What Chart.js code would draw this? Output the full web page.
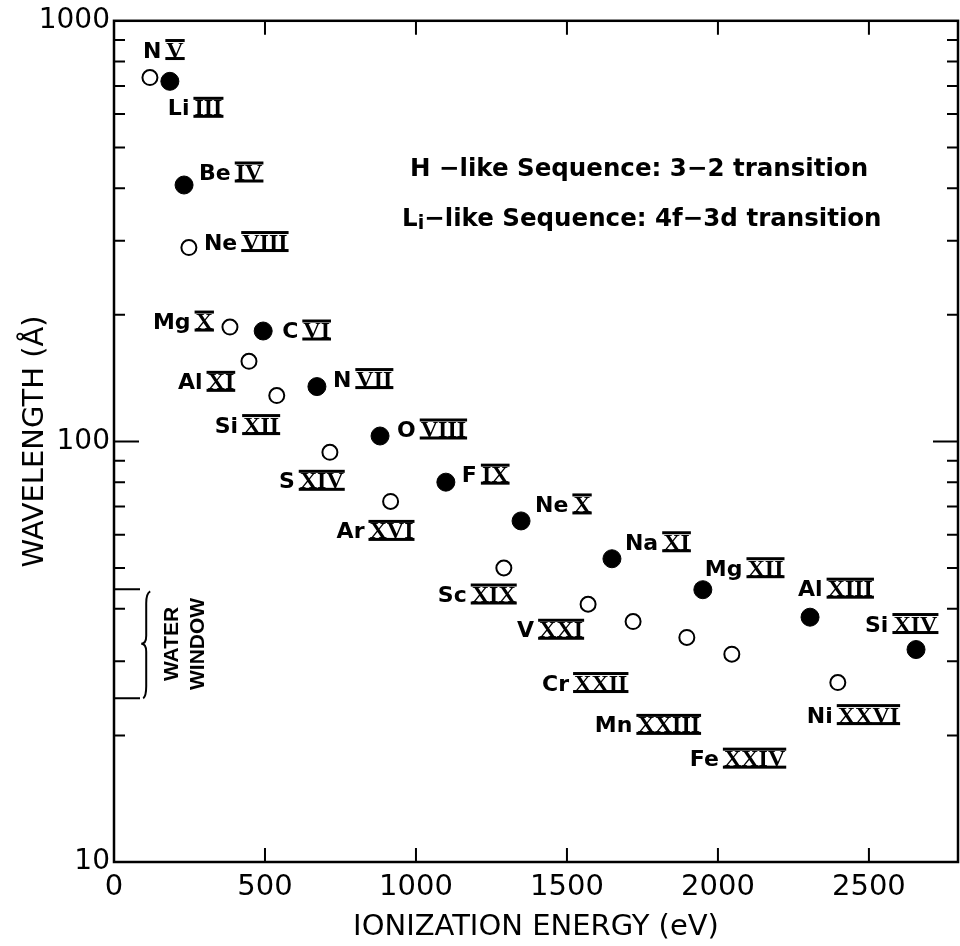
<!DOCTYPE html>
<html>
<head>
<meta charset="utf-8">
<script src="https://cdn.jsdelivr.net/npm/chart.js@4.4.1/dist/chart.umd.min.js"></script>
<style>
html, body { margin: 0; padding: 0; background: #fff; }
</style>
</head>
<body>
<canvas id="myChart" width="960" height="946"></canvas>
<script>
// H-like ions, 3-2 transition (filled circles)
const hIons = ['Li', 'Be', 'C', 'N', 'O', 'F', 'Ne', 'Na', 'Mg', 'Al', 'Si'];
const hStages = ['III', 'IV', 'VI', 'VII', 'VIII', 'IX', 'X', 'XI', 'XII', 'XIII', 'XIV'];
const hEnergy = [185, 232, 494, 672, 881, 1099, 1348, 1649, 1950, 2305, 2656];
const hWavelength = [718, 407, 183, 135, 103, 80, 64.7, 52.6, 44.4, 38.2, 32];

// Li-like ions, 4f-3d transition (open circles)
const liIons = ['N', 'Ne', 'Mg', 'Al', 'Si', 'S', 'Ar', 'Sc', 'V', 'Cr', 'Mn', 'Fe', 'Ni'];
const liStages = ['V', 'VIII', 'X', 'XI', 'XII', 'XIV', 'XVI', 'XIX', 'XXI', 'XXII', 'XXIII', 'XXIV', 'XXVI'];
const liEnergy = [119, 248, 384, 447, 539, 715, 916, 1291, 1570, 1719, 1897, 2046, 2397];
const liWavelength = [733, 289, 187, 155, 128.5, 94.2, 72, 50, 41, 37.3, 34.2, 31.2, 26.7];

const xTicks = [0, 500, 1000, 1500, 2000, 2500];
const yTicks = [10, 100, 1000];
const waterWindow = [24.5, 44.5]; // Angstrom

// label placement relative to each point (left edge, vertical centre), px
const hLabelPos = [[-2, 26], [15, -13], [19, -1], [16, -8], [17, -7], [16, -8], [14, -17], [13, -17], [2, -22], [-12, -29], [-51, -26]];
const liLabelPos = [[-7, -28], [15, -6], [-77, -6], [-71, 20], [-62, 29], [-51, 28], [-54, 29], [-66, 26], [-71, 25], [-91, 61], [-92, 87], [-42, 104], [-31, 32]];

function drawIonLabel(ctx, x, cy, sym, stage) {
    const base = cy + 8;
    ctx.textAlign = 'left';
    ctx.textBaseline = 'alphabetic';
    ctx.font = 'bold 22px "DejaVu Sans"';
    ctx.fillText(sym, x, base);
    const nx = x + ctx.measureText(sym).width + 5;
    ctx.font = 'bold 24px "Liberation Serif"';
    const w = ctx.measureText(stage).width;
    ctx.fillText(stage, nx, base);
    // bars above and below the numeral
    ctx.fillRect(nx - 1, base - 18.5, w + 2, 3);
    ctx.fillRect(nx - 1, base - 0.5, w + 2, 3);
}

// frame, inward ticks and annotations
const framePlugin = {
    id: 'frame',
    afterDraw(chart) {
        const ctx = chart.ctx;
        const a = chart.chartArea;
        const xs = chart.scales.x, ys = chart.scales.y;
        ctx.save();
        ctx.strokeStyle = '#000';
        ctx.fillStyle = '#000';
        ctx.lineWidth = 2.5;
        ctx.strokeRect(a.left, a.top, a.right - a.left, a.bottom - a.top);

        ctx.lineWidth = 2;
        ctx.beginPath();
        // x ticks, bottom and top
        xTicks.forEach(v => {
            if (v === 0) return;
            const px = xs.getPixelForValue(v);
            ctx.moveTo(px, a.bottom); ctx.lineTo(px, a.bottom - 14);
            ctx.moveTo(px, a.top); ctx.lineTo(px, a.top + 14);
        });
        // log ticks, left and right
        for (let dec = 10; dec < 1000; dec *= 10) {
            for (let d = 1; d <= 9; d++) {
                const v = d * dec;
                if (v <= 10) continue;
                const py = ys.getPixelForValue(v);
                const len = (d === 1) ? 25 : 11;
                ctx.moveTo(a.left, py); ctx.lineTo(a.left + len, py);
                ctx.moveTo(a.right, py); ctx.lineTo(a.right - len, py);
            }
        }
        ctx.stroke();

        // water window bracket
        const yTop = ys.getPixelForValue(waterWindow[1]);
        const yBot = ys.getPixelForValue(waterWindow[0]);
        const yMid = (yTop + yBot) / 2;
        const bx = xs.getPixelForValue(110);
        ctx.lineWidth = 2;
        ctx.beginPath();
        ctx.moveTo(a.left, yTop); ctx.lineTo(a.left + 26, yTop);
        ctx.moveTo(a.left, yBot); ctx.lineTo(a.left + 26, yBot);
        ctx.stroke();
        ctx.beginPath();
        ctx.moveTo(bx + 3, yTop + 2);
        ctx.quadraticCurveTo(bx - 1, yTop + 4, bx - 1, yTop + 14);
        ctx.lineTo(bx - 1, yMid - 8);
        ctx.quadraticCurveTo(bx - 1, yMid, bx - 6, yMid);
        ctx.quadraticCurveTo(bx - 1, yMid, bx - 1, yMid + 8);
        ctx.lineTo(bx - 1, yBot - 12);
        ctx.quadraticCurveTo(bx - 1, yBot - 2, bx - 4, yBot);
        ctx.stroke();

        ctx.save();
        ctx.translate(xs.getPixelForValue(192), ys.getPixelForValue(33));
        ctx.rotate(-Math.PI / 2);
        ctx.font = 'bold 21px "Liberation Sans"';
        ctx.textAlign = 'center';
        ctx.textBaseline = 'middle';
        ctx.fillText('WATER', 0, 0);
        ctx.fillText('WINDOW', 0, xs.getPixelForValue(278) - xs.getPixelForValue(192));
        ctx.restore();

        // sequence notes
        ctx.font = 'bold 24.5px "DejaVu Sans"';
        ctx.textAlign = 'left';
        ctx.textBaseline = 'middle';
        const hx = xs.getPixelForValue(980), hy = ys.getPixelForValue(442);
        ctx.fillText('H \u2212like Sequence: 3\u22122 transition', hx, hy);
        const lx = xs.getPixelForValue(954), ly = ys.getPixelForValue(337);
        ctx.fillText('L', lx, ly);
        const lw = ctx.measureText('L').width;
        ctx.font = 'bold 19px "DejaVu Sans"';
        ctx.fillText('i', lx + lw, ly + 5);
        const iw = ctx.measureText('i').width;
        ctx.font = 'bold 24.5px "DejaVu Sans"';
        ctx.fillText('\u2212like Sequence: 4f\u22123d transition', lx + lw + iw, ly);
        ctx.restore();
    }
};

const labelPlugin = {
    id: 'ionLabels',
    afterDatasetsDraw(chart) {
        const ctx = chart.ctx;
        ctx.save();
        ctx.fillStyle = '#000';
        chart.getDatasetMeta(0).data.forEach((pt, i) => {
            drawIonLabel(ctx, pt.x + hLabelPos[i][0], pt.y + hLabelPos[i][1], hIons[i], hStages[i]);
        });
        chart.getDatasetMeta(1).data.forEach((pt, i) => {
            drawIonLabel(ctx, pt.x + liLabelPos[i][0], pt.y + liLabelPos[i][1], liIons[i], liStages[i]);
        });
        ctx.restore();
    }
};

const ctx = document.getElementById('myChart').getContext('2d');
const myChart = new Chart(ctx, {
    type: 'scatter',
    data: {
        datasets: [{
            label: 'H-like Sequence: 3-2 transition',
            data: hEnergy.map((e, i) => ({ x: e, y: hWavelength[i] })),
            pointRadius: 9,
            pointBackgroundColor: '#000',
            pointBorderColor: '#000',
            pointBorderWidth: 1
        }, {
            label: 'Li-like Sequence: 4f-3d transition',
            data: liEnergy.map((e, i) => ({ x: e, y: liWavelength[i] })),
            pointRadius: 7.5,
            pointBackgroundColor: '#fff',
            pointBorderColor: '#000',
            pointBorderWidth: 2
        }]
    },
    options: {
        responsive: false,
        animation: false,
        layout: { autoPadding: false, padding: { top: 15, right: 2, left: 0, bottom: 0 } },
        plugins: {
            legend: { display: false },
            tooltip: { enabled: false }
        },
        scales: {
            x: {
                type: 'linear',
                min: 0,
                max: 2795,
                afterBuildTicks: s => { s.ticks = xTicks.map(v => ({ value: v })); },
                afterFit: s => { s.height = 84; },
                grid: { display: false, drawTicks: false },
                border: { display: false },
                ticks: { color: '#000', padding: 8, maxRotation: 0, callback: v => String(v), font: { family: 'DejaVu Sans', size: 29 } },
                title: {
                    display: true,
                    text: 'IONIZATION ENERGY (eV)',
                    color: '#000',
                    font: { family: 'DejaVu Sans', size: 29 },
                    padding: { top: 0, bottom: 1 }
                }
            },
            y: {
                type: 'logarithmic',
                min: 10,
                max: 1000,
                afterBuildTicks: s => { s.ticks = yTicks.map(v => ({ value: v })); },
                afterFit: s => { s.width = 114; },
                grid: { display: false, drawTicks: false },
                border: { display: false },
                ticks: { color: '#000', padding: 4, callback: v => String(v), font: { family: 'DejaVu Sans', size: 28 } },
                title: {
                    display: true,
                    text: 'WAVELENGTH (\u00c5)',
                    color: '#000',
                    font: { family: 'DejaVu Sans', size: 29 },
                    padding: { top: 18, bottom: 0 }
                }
            }
        }
    },
    plugins: [framePlugin, labelPlugin]
});
</script>
</body>
</html>
